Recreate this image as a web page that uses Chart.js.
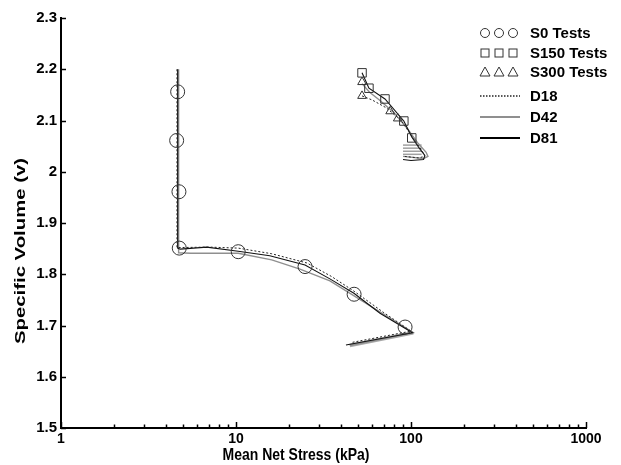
<!DOCTYPE html>
<html><head><meta charset="utf-8">
<script src="https://cdn.jsdelivr.net/npm/chart.js@4"></script>
<style>html,body{margin:0;padding:0;background:#fff}#wrap{width:621px;height:465px}</style>
</head><body><div id="wrap"><canvas id="c" width="621" height="465"></canvas></div>
<script>
// ---- data (mean net stress kPa, specific volume) ----
const s0Stress   = [4.64, 4.58, 4.72, 4.74, 10.3, 24.8, 47.3, 92.5];
const s0Volume   = [2.156, 2.061, 1.961, 1.851, 1.844, 1.815, 1.761, 1.697];
const s150Stress = [52.5, 57.5, 71, 91, 101];
const s150Volume = [2.193, 2.163, 2.142, 2.099, 2.066];
const s300Stress = [52.5, 52.5, 76, 84];
const s300Volume = [2.175, 2.148, 2.118, 2.104];

const d18LowStress = [4.6, 4.6, 7, 10.3, 16, 25.4, 35, 47.2, 70, 100, 46];
const d18LowVolume = [2.20, 1.852, 1.853, 1.851, 1.840, 1.822, 1.796, 1.767, 1.725, 1.689, 1.667];
const d42LowStress = [4.7, 4.7, 5.5, 10.3, 16, 23.2, 34.4, 64, 103, 44.7];
const d42LowVolume = [2.20, 1.842, 1.841, 1.841, 1.828, 1.810, 1.787, 1.730, 1.686, 1.661];
const d81LowStress = [4.64, 4.64, 4.8, 6.8, 10.3, 15.6, 24.8, 34.4, 47.2, 66.5, 102, 42.5];
const d81LowVolume = [2.20, 1.851, 1.849, 1.853, 1.845, 1.836, 1.818, 1.791, 1.763, 1.724, 1.686, 1.662];

const d18TopStress = [52.5, 60, 72, 88, 103, 116, 120, 110, 92];
const d18TopVolume = [2.148, 2.140, 2.125, 2.100, 2.065, 2.040, 2.030, 2.027, 2.030];
const d42TopStress = [52.5, 58, 66, 80, 95, 110, 122, 125, 118, 90];
const d42TopVolume = [2.172, 2.155, 2.140, 2.115, 2.085, 2.055, 2.038, 2.030, 2.026, 2.030];
const d81TopStress = [52.5, 57.5, 71, 91, 101, 112, 120, 118, 100, 90];
const d81TopVolume = [2.193, 2.163, 2.142, 2.099, 2.068, 2.045, 2.032, 2.024, 2.022, 2.024];

const d42CycleLevels = [2.052, 2.046, 2.040, 2.034];
const d42CycleStressFrom = 90;
const d42CycleStressTo = 115;

const xTickValues = [1, 10, 100, 1000];

// ---- build ----
const pts = (xs, ys) => xs.map((x, i) => ({x: x, y: ys[i]}));
const lineDs = (xs, ys, style) => Object.assign({
  data: pts(xs, ys), showLine: true, pointRadius: 0, pointHoverRadius: 0, tension: 0, fill: false
}, style);
const D18 = {borderColor: '#222', borderWidth: 1, borderDash: [2, 2]};
const D42 = {borderColor: '#8f8f8f', borderWidth: 1.4};
const D81 = {borderColor: '#111', borderWidth: 1.1};
const markerDs = (xs, ys, style, r) => ({
  data: pts(xs, ys), showLine: false, pointStyle: style, pointRadius: r, pointHoverRadius: r,
  pointBorderColor: '#333', pointBackgroundColor: 'rgba(0,0,0,0)', pointBorderWidth: 1
});

const datasets = [
  markerDs(s0Stress, s0Volume, 'circle', 7),
  markerDs(s150Stress, s150Volume, 'rect', 6),
  markerDs(s300Stress, s300Volume, 'triangle', 5),
  lineDs(d18LowStress, d18LowVolume, D18),
  lineDs(d81LowStress, d81LowVolume, D81),
  lineDs(d18TopStress, d18TopVolume, D18),
  lineDs(d81TopStress, d81TopVolume, D81),
  lineDs(d42LowStress, d42LowVolume, D42),
  lineDs(d42TopStress, d42TopVolume, D42),
  lineDs(d42LowStress.slice(-2), d42LowVolume.slice(-2), {borderColor: '#a8a8a8', borderWidth: 3.5})
];
d42CycleLevels.forEach(v => datasets.push(lineDs([d42CycleStressFrom, d42CycleStressTo], [v, v], {borderColor: '#a0a0a0', borderWidth: 1.5})));

const FONT = '"Liberation Sans", Arial, sans-serif';

const decor = {
  id: 'decor',
  afterDraw(chart) {
    const ctx = chart.ctx, xs = chart.scales.x, ys = chart.scales.y;
    const a = chart.chartArea;
    ctx.save();
    ctx.strokeStyle = '#000';
    ctx.lineWidth = 1.5;
    // y ticks inward
    ys.ticks.forEach(t => {
      const y = Math.round(ys.getPixelForValue(t.value)) + 0.5;
      ctx.beginPath(); ctx.moveTo(a.left, y); ctx.lineTo(a.left + 5, y); ctx.stroke();
    });
    // x ticks inward (major + minor)
    for (let d = 1; d <= 1000; d *= 10) {
      for (let m = 1; m <= 9; m++) {
        const v = d * m; if (v > 1000) break;
        const x = Math.round(xs.getPixelForValue(v)) + 0.5;
        const len = m === 1 ? 6 : 3.5;
        ctx.beginPath(); ctx.moveTo(x, a.bottom); ctx.lineTo(x, a.bottom - len); ctx.stroke();
      }
    }
    // axis titles
    ctx.fillStyle = '#000';
    ctx.font = 'bold 14px ' + FONT;
    ctx.textAlign = 'center'; ctx.textBaseline = 'middle';
    ctx.save();
    ctx.translate(296, 456); ctx.scale(1, 1.15);
    ctx.fillText('Mean Net Stress (kPa)', 0, 0);
    ctx.restore();
    ctx.translate(21, 251); ctx.rotate(-Math.PI / 2);
    ctx.font = 'bold 15px ' + FONT;
    const yt = 'Specific Volume (v)';
    const w = ctx.measureText(yt).width;
    ctx.scale(186 / w, 1);
    ctx.fillText(yt, 0, 0);
    ctx.restore();

    // legend
    ctx.save();
    ctx.strokeStyle = '#333'; ctx.lineWidth = 1;
    const rows = [33, 53, 72, 96, 117, 138];
    const symX = [485, 499, 513];
    symX.forEach(x => { ctx.beginPath(); ctx.arc(x, rows[0], 4.5, 0, Math.PI * 2); ctx.stroke(); });
    symX.forEach(x => { ctx.strokeRect(x - 4, rows[1] - 4, 8, 8); });
    symX.forEach(x => { ctx.beginPath(); ctx.moveTo(x - 5, rows[2] + 4); ctx.lineTo(x + 5, rows[2] + 4); ctx.lineTo(x, rows[2] - 5); ctx.closePath(); ctx.stroke(); });
    ctx.beginPath(); ctx.setLineDash([1.5, 1.5]); ctx.strokeStyle = '#222'; ctx.lineWidth = 1.3;
    ctx.moveTo(480, rows[3]); ctx.lineTo(520, rows[3]); ctx.stroke(); ctx.setLineDash([]);
    ctx.beginPath(); ctx.strokeStyle = '#8f8f8f'; ctx.lineWidth = 2;
    ctx.moveTo(480, rows[4]); ctx.lineTo(520, rows[4]); ctx.stroke();
    ctx.beginPath(); ctx.strokeStyle = '#000'; ctx.lineWidth = 2.2;
    ctx.moveTo(480, rows[5]); ctx.lineTo(520, rows[5]); ctx.stroke();
    ctx.fillStyle = '#000'; ctx.font = 'bold 15px ' + FONT;
    ctx.textAlign = 'left'; ctx.textBaseline = 'middle';
    const labels = ['S0 Tests', 'S150 Tests', 'S300 Tests', 'D18', 'D42', 'D81'];
    labels.forEach((t, i) => ctx.fillText(t, 530, rows[i] + 1));
    ctx.restore();
  }
};

new Chart(document.getElementById('c'), {
  type: 'scatter',
  data: {datasets: datasets},
  options: {
    responsive: false, animation: false, devicePixelRatio: 1,
    layout: {padding: {top: 18, right: 35, left: 0, bottom: 0}},
    plugins: {legend: {display: false}, tooltip: {enabled: false}},
    scales: {
      x: {
        type: 'logarithmic', min: 1, max: 1000,
        afterBuildTicks: s => { s.ticks = xTickValues.map(v => ({value: v})); },
        afterFit: s => { s.height = 37; },
        grid: {display: false, drawTicks: false},
        border: {display: true, color: '#000', width: 2},
        ticks: {color: '#000', font: {family: FONT, size: 14, weight: 'bold'}, padding: 3, maxRotation: 0, autoSkip: false,
                callback: v => String(v)}
      },
      y: {
        type: 'linear', min: 1.5, max: 2.3,
        afterFit: s => { s.width = 61; },
        grid: {display: false, drawTicks: false},
        border: {display: true, color: '#000', width: 2},
        ticks: {stepSize: 0.1, color: '#000', font: {family: FONT, size: 15, weight: 'bold'}, padding: 4,
                callback: v => String(Number(v.toFixed(1)))}
      }
    }
  },
  plugins: [decor]
});
</script></body></html>
